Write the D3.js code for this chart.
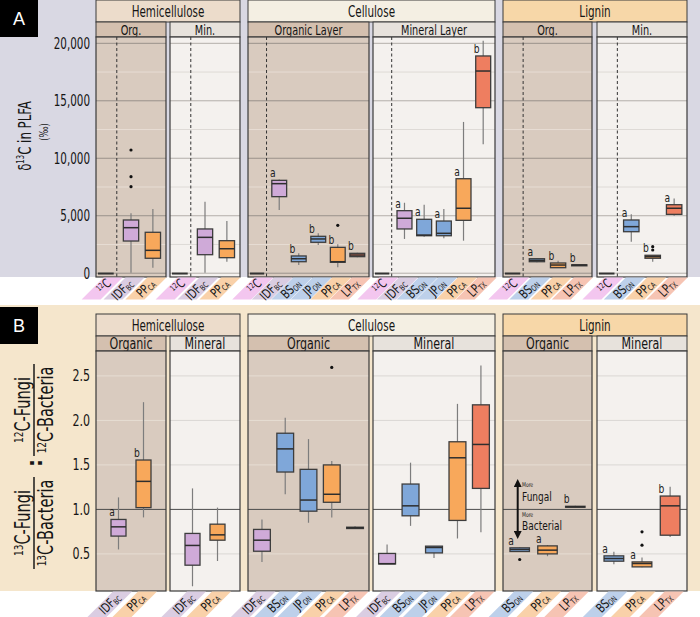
<!DOCTYPE html>
<html><head><meta charset="utf-8">
<script src="https://cdn.jsdelivr.net/npm/d3@7"></script>
<style>
body{margin:0;background:#fff;}
svg{display:block;font-family:"DejaVu Sans Condensed","DejaVu Sans",sans-serif;}
</style></head><body>
<svg id="c" width="700" height="617"></svg>
<script>
// ---------------- DATA ----------------
const substrates = ["Hemicellulose", "Cellulose", "Lignin"];
const layerNamesA = [["Org.", "Min."], ["Organic Layer", "Mineral Layer"], ["Org.", "Min."]];
const layerNamesB = [["Organic", "Mineral"], ["Organic", "Mineral"], ["Organic", "Mineral"]];
const catsA = [["12C", "IDF_BC", "PP_CA"], ["12C", "IDF_BC", "BS_ON", "JP_ON", "PP_CA", "LP_TX"], ["12C", "BS_ON", "PP_CA", "LP_TX"]];
const catsB = [["IDF_BC", "PP_CA"], ["IDF_BC", "BS_ON", "JP_ON", "PP_CA", "LP_TX"], ["BS_ON", "PP_CA", "LP_TX"]];
const majorTicksA = [0, 5000, 10000, 15000, 20000];
const minorTicksA = [2500, 7500, 12500, 17500];
const ticksB = [0.5, 1.0, 1.5, 2.0, 2.5];
const value12C = -30; // unlabelled control, δ13C ‰

// rows: [category, whiskerLow, Q1, median, Q3, whiskerHigh, letter, outliers]
// Panel A: δ13C in PLFA (‰)
const A_hemi_org = [
  ["IDF_BC", 50, 2800, 3960, 4630, 5210, "", [7530, 8400, 10720]],
  ["PP_CA", 480, 1300, 1990, 3560, 5590, "", []]
];
const A_hemi_min = [
  ["IDF_BC", 50, 1610, 3120, 3850, 6220, "", []],
  ["PP_CA", 1000, 1350, 2130, 2830, 4540, "", []]
];
const A_cell_org = [
  ["IDF_BC", 5500, 6660, 7790, 8080, 8150, "a", []],
  ["BS_ON", 710, 1000, 1260, 1500, 1730, "b", []],
  ["JP_ON", 2450, 2690, 2980, 3210, 3470, "b", []],
  ["PP_CA", 510, 950, 1000, 2250, 2510, "b", [4170]],
  ["LP_TX", 1380, 1440, 1580, 1730, 1790, "b", []]
];
const A_cell_min = [
  ["IDF_BC", 2980, 3850, 4780, 5440, 6130, "a", []],
  ["BS_ON", 3180, 3260, 3320, 4690, 5960, "a", []],
  ["JP_ON", 3040, 3260, 3470, 4540, 5590, "a", []],
  ["PP_CA", 2830, 4600, 5650, 8220, 13160, "a", []],
  ["LP_TX", 11210, 14400, 17590, 18900, 20230, "b", []]
];
const A_lig_org = [
  ["BS_ON", 950, 1000, 1120, 1260, 1300, "a", []],
  ["PP_CA", 480, 480, 710, 890, 1090, "b", []],
  ["LP_TX", 690, 700, 710, 730, 740, "b", []]
];
const A_lig_min = [
  ["BS_ON", 2740, 3610, 4050, 4630, 5120, "a", []],
  ["PP_CA", 1000, 1300, 1440, 1560, 1560, "b", [2020, 2310]],
  ["LP_TX", 5000, 5120, 5650, 5960, 6510, "a", []]
];
// Panel B: fungal:bacterial ratio (13C vs 12C)
const B_hemi_org = [
  ["IDF_BC", 0.55, 0.70, 0.804, 0.887, 1.135, "a", []],
  ["PP_CA", 0.91, 1.02, 1.315, 1.555, 2.205, "b", []]
];
const B_hemi_min = [
  ["IDF_BC", 0.136, 0.373, 0.595, 0.73, 1.236, "", []],
  ["PP_CA", 0.42, 0.654, 0.714, 0.834, 1.02, "", []]
];
const B_cell_org = [
  ["IDF_BC", 0.41, 0.53, 0.654, 0.775, 0.887, "", []],
  ["BS_ON", 1.17, 1.42, 1.68, 1.856, 2.03, "", []],
  ["JP_ON", 0.85, 0.98, 1.105, 1.45, 1.79, "", []],
  ["PP_CA", 0.91, 1.08, 1.17, 1.50, 1.544, "", [2.595]],
  ["LP_TX", 0.78, 0.785, 0.793, 0.80, 0.81, "", []]
];
const B_cell_min = [
  ["IDF_BC", 0.387, 0.387, 0.39, 0.505, 0.606, "", []],
  ["BS_ON", 0.815, 0.928, 1.04, 1.285, 1.525, "", []],
  ["JP_ON", 0.455, 0.511, 0.572, 0.587, 0.59, "", []],
  ["PP_CA", 0.673, 0.876, 1.58, 1.76, 2.186, "", []],
  ["LP_TX", 0.744, 1.236, 1.73, 2.175, 2.617, "", []]
];
const B_lig_org = [
  ["BS_ON", 0.52, 0.527, 0.55, 0.568, 0.575, "a", [0.437]],
  ["PP_CA", 0.474, 0.50, 0.542, 0.59, 0.60, "a", []],
  ["LP_TX", 1.02, 1.025, 1.03, 1.035, 1.04, "b", []]
];
const B_lig_min = [
  ["BS_ON", 0.384, 0.418, 0.448, 0.478, 0.523, "a", []],
  ["PP_CA", 0.35, 0.354, 0.392, 0.41, 0.46, "a", [0.598, 0.748]],
  ["LP_TX", 0.69, 0.71, 1.04, 1.15, 1.255, "b", []]
];

// ---------------- STYLE / LAYOUT ----------------
const boxFill = { IDF_BC: "#cfaad8", BS_ON: "#7fa7d9", JP_ON: "#7fa7d9", PP_CA: "#f8a85b", LP_TX: "#ee7e60" };
const stripeFill = { "12C": "#f3c6ef", IDF_BC: "#dacde2", BS_ON: "#bdd0ea", JP_ON: "#bdd0ea", PP_CA: "#f9d1a9", LP_TX: "#f6c4b3" };
const subStripFill = ["#ecdccb", "#f4efe3", "#f7d7a8"];
const layerStripFill = ["#d4c0af", "#e7e2dc"];
const plotFill = ["#d9cbbf", "#f4f1ee"];
const borderCol = "#3a3a3a";
const SX = 0.77; // horizontal condensing of text
const colX = [[[96, 166], [170, 240]], [[248, 369], [373, 495]], [[503, 592], [597, 687]]];

const svg = d3.select("#c");

function T(parent, x, y, fs, anchor, rot, sx) {
  const g = parent.append("g").attr("transform", `translate(${x},${y})` + (rot ? ` rotate(${rot})` : "") + ` scale(${sx || SX},1)`);
  return g.append("text").attr("text-anchor", anchor).attr("font-size", fs).attr("fill", "#151515");
}

// backgrounds
svg.append("rect").attr("x", 0).attr("y", 0).attr("width", 700).attr("height", 277).attr("fill", "#d9d8e3");
svg.append("rect").attr("x", 0).attr("y", 305).attr("width", 700).attr("height", 286).attr("fill", "#f5e6cc");

// panel tags
function tag(y, t) {
  svg.append("rect").attr("x", 0).attr("y", y).attr("width", 38).attr("height", 37).attr("fill", "#000");
  svg.append("text").attr("x", 19).attr("y", y + 25).attr("text-anchor", "middle")
    .attr("font-family", "Liberation Sans, Arial, sans-serif").attr("font-size", 18).attr("fill", "#fff").text(t);
}
tag(0, "A");
tag(307, "B");

const yA = d3.scaleLinear().domain([-330, 20550]).range([277, 37]);
const yB = d3.scaleLinear().domain([0.083, 2.78]).range([591, 351]);

function catLabel(parent, x, y, cat, fs) {
  const t = T(parent, x, y, fs, "end", -45, 0.82).attr("y", 4);
  if (cat === "12C") {
    t.append("tspan").attr("font-size", fs * 0.6).attr("dy", -4).text("12");
    t.append("tspan").attr("dy", 4).text("C");
  } else {
    const [m, s] = cat.split("_");
    t.append("tspan").text(m);
    t.append("tspan").attr("font-size", fs * 0.62).attr("dy", 1.5).text(s);
  }
}

function drawRow(row) {
  const g = svg.append("g");
  substrates.forEach((sub, si) => {
    const xL = colX[si][0][0], xR = colX[si][1][1];
    g.append("rect").attr("x", xL).attr("y", row.top).attr("width", xR - xL).attr("height", 22)
      .attr("fill", subStripFill[si]).attr("stroke", borderCol).attr("stroke-width", 1);
    T(g, (xL + xR) / 2, row.top + 16.5, 15, "middle").text(sub);
    [0, 1].forEach(li => {
      const [x0, x1] = colX[si][li];
      const pt = row.plotTop, pb = row.plotBottom;
      g.append("rect").attr("x", x0).attr("y", row.top + 22).attr("width", x1 - x0).attr("height", 15)
        .attr("fill", layerStripFill[li]).attr("stroke", borderCol).attr("stroke-width", 1);
      T(g, (x0 + x1) / 2, row.top + 34.5, row.layerFs, "middle").text(row.layerNames[si][li]);
      g.append("rect").attr("x", x0).attr("y", pt).attr("width", x1 - x0).attr("height", pb - pt).attr("fill", plotFill[li]);
      // grid
      row.minor.forEach(v => g.append("line").attr("x1", x0).attr("x2", x1).attr("y1", row.y(v)).attr("y2", row.y(v))
        .attr("stroke", li === 0 ? "#e7ddd4" : "#dedad6").attr("stroke-width", 1));
      row.major.forEach(v => g.append("line").attr("x1", x0).attr("x2", x1).attr("y1", row.y(v)).attr("y2", row.y(v))
        .attr("stroke", row.isA ? (li === 0 ? "#9a918b" : "#b3aeaa") : (v === 1 ? "#4a4a4a" : (li === 0 ? "#e6ddd3" : "#dad7d4")))
        .attr("stroke-width", 1));
      const cats = row.cats[si];
      const x = d3.scalePoint().domain(cats).range([x0, x1]).padding(row.pad[si]);
      const step = x.step();
      const bw = step * row.boxFrac[si];
      if (row.isA) {
        const dx = x("12C") + 0.35 * step;
        g.append("line").attr("x1", dx).attr("x2", dx).attr("y1", pt).attr("y2", pb)
          .attr("stroke", "#333").attr("stroke-dasharray", "3,2.5").attr("stroke-width", 1);
        g.append("line").attr("x1", x0 + 2).attr("x2", x("12C") + 0.3 * bw).attr("y1", row.y(value12C)).attr("y2", row.y(value12C))
          .attr("stroke", "#333").attr("stroke-width", 2);
      }
      const data = row.data[si][li];
      data.forEach(d => {
        const [cat, lo, q1, med, q3, hi, letter, outs] = d;
        const cx = x(cat);
        g.append("line").attr("x1", cx).attr("x2", cx).attr("y1", row.y(lo)).attr("y2", row.y(hi))
          .attr("stroke", "#7d7d7d").attr("stroke-width", 1.2);
        g.append("rect").attr("x", cx - bw / 2).attr("y", row.y(q3)).attr("width", bw)
          .attr("height", Math.max(row.y(q1) - row.y(q3), 1)).attr("fill", boxFill[cat])
          .attr("stroke", "#3d3d3d").attr("stroke-width", 1.3);
        g.append("line").attr("x1", cx - bw / 2).attr("x2", cx + bw / 2).attr("y1", row.y(med)).attr("y2", row.y(med))
          .attr("stroke", "#2e2e2e").attr("stroke-width", 1.5);
        outs.forEach(o => g.append("circle").attr("cx", cx).attr("cy", row.y(o)).attr("r", 1.6).attr("fill", "#111"));
        if (letter) T(g, cx - bw / 2 + 1, row.y(q3) - 3, 12, "middle", 0, 0.85).attr("fill", "#222").text(letter);
      });
      g.append("rect").attr("x", x0).attr("y", pt).attr("width", x1 - x0).attr("height", pb - pt)
        .attr("fill", "none").attr("stroke", borderCol).attr("stroke-width", 1.2);
      // category stripes + labels
      const st = pb + 0.5, sh = row.stripeH, sw = 19;
      cats.forEach(cat => {
        const c = x(cat) + 4;
        g.append("path").attr("d", `M${c - sw / 2},${st}L${c + sw / 2},${st}L${c + sw / 2 - sh},${st + sh}L${c - sw / 2 - sh},${st + sh}Z`)
          .attr("fill", stripeFill[cat]);
        catLabel(g, x(cat), st + 4, cat, 13);
      });
    });
  });
  // y tick labels
  row.major.forEach(v => T(svg, 90, row.y(v) + 5.5, row.tickFs, "end").text(row.fmt(v)));
}

drawRow({
  isA: true, top: 0, plotTop: 37, plotBottom: 277, y: yA, cats: catsA, layerNames: layerNamesA, layerFs: 14,
  major: majorTicksA, minor: minorTicksA, fmt: d3.format(","), pad: [0.6, 0.6, 0.6], boxFrac: [0.7, 0.76, 0.72],
  stripeH: 22, tickFs: 15,
  data: [[A_hemi_org, A_hemi_min], [A_cell_org, A_cell_min], [A_lig_org, A_lig_min]]
});
drawRow({
  isA: false, top: 314, plotTop: 351, plotBottom: 591, y: yB, cats: catsB, layerNames: layerNamesB, layerFs: 16,
  major: ticksB, minor: [], fmt: d3.format(".1f"), pad: [0.9, 0.6, 0.6], boxFrac: [0.6, 0.72, 0.7],
  stripeH: 26, tickFs: 16,
  data: [[B_hemi_org, B_hemi_min], [B_cell_org, B_cell_min], [B_lig_org, B_lig_min]]
});

// axis titles
const tA = T(svg, 31, 136, 17, "middle", -90);
tA.append("tspan").text("δ");
tA.append("tspan").attr("font-size", 10).attr("dy", -7).text("13");
tA.append("tspan").attr("dy", 7).text("C in PLFA");
T(svg, 48, 132, 12, "middle", -90).text("(‰)");

const tB = svg.append("g").attr("transform", "translate(34,466) rotate(-90)");
function frac(cx, iso) {
  const n = T(tB, cx, -4, 21, "middle");
  n.append("tspan").attr("font-size", 13).attr("dy", -7).text(iso);
  n.append("tspan").attr("dy", 7).text("C-Fungi");
  const d = T(tB, cx, 19, 21, "middle");
  d.append("tspan").attr("font-size", 13).attr("dy", -7).text(iso);
  d.append("tspan").attr("dy", 7).text("C-Bacteria");
  tB.append("line").attr("x1", cx - 46).attr("x2", cx + 46).attr("y1", 0).attr("y2", 0).attr("stroke", "#1a1a1a").attr("stroke-width", 1.5);
}
frac(-57, "13");
frac(56, "12");
T(tB, 3, 8, 22, "middle", 0, 1).attr("font-weight", "bold").text(":");

// annotation in lignin organic (B)
const ann = svg.append("g");
const defs = svg.append("defs");
defs.append("marker").attr("id", "ah").attr("viewBox", "0 0 10 10").attr("refX", 5).attr("refY", 5)
  .attr("markerWidth", 4).attr("markerHeight", 4).attr("orient", "auto-start-reverse")
  .append("path").attr("d", "M0,0L10,5L0,10Z").attr("fill", "#111");
ann.append("line").attr("x1", 517.7).attr("x2", 517.7).attr("y1", 483).attr("y2", 535)
  .attr("stroke", "#111").attr("stroke-width", 2).attr("marker-start", "url(#ah)").attr("marker-end", "url(#ah)");
T(ann, 522, 487, 6.5, "start").text("More");
T(ann, 522, 500.5, 13, "start").text("Fungal");
T(ann, 522, 516.5, 6.5, "start").text("More");
T(ann, 522, 529.5, 13, "start").text("Bacterial");
</script>
</body></html>
